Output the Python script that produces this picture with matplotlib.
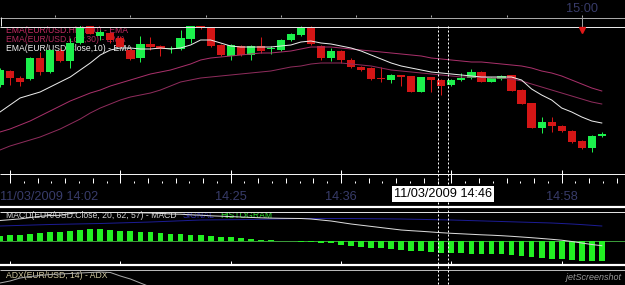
import numpy as np
import pandas as pd
import matplotlib
matplotlib.use('Agg')
import matplotlib.pyplot as plt
from matplotlib.transforms import blended_transform_factory

plt.rcParams['font.family'] = ['Liberation Sans', 'DejaVu Sans']

W, H = 625, 285
LW = 0.72          # one pixel
FS = 9.2           # time labels
FS_SMALL = 6.2     # indicator titles

# EUR/USD, 1 minute bars, 11/03/2009 from 14:02
times = pd.date_range('2009-03-11 14:02', periods=61, freq='min')

opens = [1.2741, 1.2755, 1.2748, 1.2747, 1.2768, 1.2754, 1.2775, 1.2765, 1.2783, 1.2800,
         1.2790, 1.2793, 1.2788, 1.2776, 1.2768, 1.2782, 1.2780, 1.2777, 1.2777, 1.2787,
         1.2800, 1.2798, 1.2781, 1.2770, 1.2780, 1.2771, 1.2780, 1.2777, 1.2776, 1.2786,
         1.2791, 1.2799, 1.2780, 1.2768, 1.2775, 1.2766, 1.2759, 1.2758, 1.2748, 1.2746,
         1.2751, 1.2750, 1.2734, 1.2749, 1.2746, 1.2741, 1.2746, 1.2748, 1.2754, 1.2744,
         1.2747, 1.2751, 1.2736, 1.2723, 1.2698, 1.2704, 1.2700, 1.2695, 1.2685, 1.2678,
         1.2690]
highs = [1.2758, 1.2756, 1.2750, 1.2769, 1.2774, 1.2777, 1.2778, 1.2788, 1.2801, 1.2801,
         1.2796, 1.2794, 1.2790, 1.2778, 1.2790, 1.2789, 1.2781, 1.2780, 1.2796, 1.2801,
         1.2801, 1.2799, 1.2782, 1.2782, 1.2781, 1.2781, 1.2789, 1.2780, 1.2787, 1.2793,
         1.2800, 1.2800, 1.2781, 1.2778, 1.2776, 1.2768, 1.2760, 1.2759, 1.2759, 1.2752,
         1.2751, 1.2750, 1.2749, 1.2749, 1.2747, 1.2747, 1.2753, 1.2757, 1.2755, 1.2749,
         1.2751, 1.2751, 1.2737, 1.2723, 1.2709, 1.2709, 1.2701, 1.2696, 1.2686, 1.2691,
         1.2694]
lows = [1.2739, 1.2741, 1.2740, 1.2746, 1.2751, 1.2753, 1.2764, 1.2758, 1.2782, 1.2792,
        1.2786, 1.2783, 1.2778, 1.2766, 1.2764, 1.2776, 1.2770, 1.2773, 1.2776, 1.2783,
        1.2797, 1.2779, 1.2770, 1.2766, 1.2770, 1.2766, 1.2773, 1.2772, 1.2775, 1.2785,
        1.2790, 1.2781, 1.2766, 1.2765, 1.2763, 1.2758, 1.2755, 1.2746, 1.2744, 1.2743,
        1.2740, 1.2734, 1.2734, 1.2734, 1.2731, 1.2740, 1.2745, 1.2747, 1.2744, 1.2744,
        1.2746, 1.2735, 1.2722, 1.2698, 1.2693, 1.2694, 1.2694, 1.2683, 1.2677, 1.2674,
        1.2689]
closes = [1.2756, 1.2748, 1.2744, 1.2768, 1.2754, 1.2776, 1.2765, 1.2783, 1.2799, 1.2792,
          1.2794, 1.2786, 1.2779, 1.2767, 1.2782, 1.2779, 1.2777, 1.2778, 1.2788, 1.2800,
          1.2798, 1.2780, 1.2771, 1.2781, 1.2771, 1.2780, 1.2775, 1.2778, 1.2786, 1.2792,
          1.2798, 1.2782, 1.2768, 1.2775, 1.2766, 1.2759, 1.2756, 1.2747, 1.2747, 1.2751,
          1.2749, 1.2734, 1.2749, 1.2746, 1.2740, 1.2746, 1.2748, 1.2754, 1.2744, 1.2748,
          1.2750, 1.2735, 1.2722, 1.2698, 1.2704, 1.2700, 1.2695, 1.2684, 1.2678, 1.2690,
          1.2692]

ema_close10 = [1.2714, 1.2721, 1.2728, 1.2731, 1.2734, 1.2739, 1.2744, 1.2749, 1.2756, 1.2763,
               1.2771, 1.2776, 1.2778, 1.2778, 1.2777, 1.2777, 1.2778, 1.2777, 1.2778, 1.2781,
               1.2786, 1.2786, 1.2783, 1.2780, 1.2779, 1.2779, 1.2779, 1.2779, 1.2780, 1.2781,
               1.2784, 1.2785, 1.2783, 1.2782, 1.2780, 1.2778, 1.2775, 1.2771, 1.2767, 1.2763,
               1.2760, 1.2758, 1.2756, 1.2754, 1.2753, 1.2752, 1.2751, 1.2750, 1.2749, 1.2749,
               1.2749, 1.2749, 1.2746, 1.2737, 1.2731, 1.2726, 1.2718, 1.2714, 1.2709, 1.2705,
               1.2703]
ema_high30 = [1.2694, 1.2697, 1.2701, 1.2705, 1.2710, 1.2715, 1.2720, 1.2725, 1.2729, 1.2733,
              1.2736, 1.2740, 1.2743, 1.2746, 1.2749, 1.2752, 1.2754, 1.2756, 1.2759, 1.2762,
              1.2766, 1.2768, 1.2769, 1.2770, 1.2771, 1.2772, 1.2773, 1.2773, 1.2774, 1.2775,
              1.2777, 1.2779, 1.2779, 1.2779, 1.2778, 1.2777, 1.2776, 1.2775, 1.2774, 1.2773,
              1.2772, 1.2771, 1.2770, 1.2768, 1.2767, 1.2766, 1.2765, 1.2764, 1.2764, 1.2763,
              1.2762, 1.2761, 1.2760, 1.2758, 1.2755, 1.2753, 1.2750, 1.2746, 1.2742, 1.2738,
              1.2735]
ema_low30 = [1.2676, 1.2680, 1.2683, 1.2686, 1.2689, 1.2693, 1.2697, 1.2702, 1.2707, 1.2713,
             1.2718, 1.2722, 1.2726, 1.2729, 1.2731, 1.2733, 1.2736, 1.2740, 1.2744, 1.2746,
             1.2748, 1.2749, 1.2750, 1.2751, 1.2752, 1.2753, 1.2754, 1.2755, 1.2757, 1.2759,
             1.2760, 1.2762, 1.2763, 1.2763, 1.2763, 1.2762, 1.2761, 1.2760, 1.2758, 1.2756,
             1.2755, 1.2754, 1.2753, 1.2752, 1.2751, 1.2750, 1.2749, 1.2749, 1.2749, 1.2748,
             1.2748, 1.2747, 1.2745, 1.2742, 1.2739, 1.2736, 1.2733, 1.2730, 1.2727, 1.2724,
             1.2722]

# MACD(20, 62, 57) in pips
macd_line = [2.05, 2.13, 2.21, 2.34, 2.47, 2.55, 2.57, 2.74, 2.86, 2.93,
             2.95, 2.93, 2.86, 2.84, 2.82, 2.80, 2.76, 2.70, 2.68, 2.62,
             2.58, 2.52, 2.48, 2.44, 2.40, 2.36, 2.32, 2.29, 2.27, 2.26,
             2.25, 2.20, 2.10, 2.00, 1.85, 1.70, 1.58, 1.46, 1.34, 1.22,
             1.10, 1.03, 0.97, 0.90, 0.83, 0.77, 0.72, 0.67, 0.62, 0.58,
             0.53, 0.47, 0.40, 0.33, 0.25, 0.17, 0.08, -0.05, -0.20, -0.35,
             -0.47]
macd_signal = [1.50, 1.53, 1.56, 1.59, 1.62, 1.65, 1.67, 1.69, 1.71, 1.73,
               1.75, 1.78, 1.81, 1.84, 1.87, 1.90, 1.94, 1.98, 2.02, 2.06,
               2.10, 2.11, 2.12, 2.13, 2.14, 2.15, 2.17, 2.19, 2.21, 2.23,
               2.25, 2.25, 2.25, 2.25, 2.25, 2.25, 2.24, 2.23, 2.22, 2.21,
               2.20, 2.18, 2.16, 2.14, 2.12, 2.10, 2.07, 2.04, 2.01, 1.98,
               1.95, 1.92, 1.89, 1.86, 1.83, 1.80, 1.75, 1.70, 1.64, 1.57,
               1.50]
macd_hist = [0.55, 0.60, 0.65, 0.75, 0.85, 0.90, 0.90, 1.05, 1.15, 1.20,
             1.20, 1.15, 1.05, 1.00, 0.95, 0.90, 0.85, 0.75, 0.75, 0.65,
             0.60, 0.50, 0.43, 0.37, 0.27, 0.20, 0.13, 0.07, 0.03, -0.02,
             -0.05, -0.10, -0.15, -0.22, -0.40, -0.45, -0.57, -0.67, -0.73, -0.80,
             -0.90, -0.97, -1.03, -1.13, -1.15, -1.15, -1.20, -1.25, -1.30, -1.30,
             -1.33, -1.40, -1.47, -1.57, -1.67, -1.80, -1.83, -1.90, -2.00, -2.00,
             -2.00]

adx = [39, 41, 44, 45.5, 46.5, 47.5, 48, 48.5, 49, 49.5,
       50, 49.5, 46, 43, 39, 35, 32, 30, 29, 28.5,
       28, 27.5, 27, 27, 26.5, 26, 25.5, 25, 25, 24.5,
       24, 24, 23.5, 23, 23, 23.5, 24, 25, 26, 27,
       28, 29, 30, 31, 31.5, 32, 32.5, 33, 33.5, 34,
       34.5, 35, 35.5, 36, 36, 36, 36, 35.5, 35.5, 35.5,
       35.5]

major_idx = [1, 12, 23, 34, 45, 56]
label_idx = [23, 34, 56]
cross_idx = 44
marker_idx = 58      # 15:00

GREEN = '#1cf04c'
RED = '#d41616'
LABEL = '#383c6a'

fig = plt.figure(figsize=(W / 100, H / 100), dpi=100, facecolor='black')


def panel(top, bottom):
    a = fig.add_axes([0, 1 - bottom / H, 1, (bottom - top) / H], facecolor='black')
    a.set_xlim(0, W / 10.03)
    a.set_xticks([])
    a.set_yticks([])
    for s in a.spines.values():
        s.set_visible(False)
    return a


ax = panel(26, 173)
axm = panel(212, 264)
axa = panel(271, 285)

x = np.arange(len(opens))
o, h, l, c = map(np.array, (opens, highs, lows, closes))
col = np.where(c >= o, GREEN, RED)

# candles
ax.vlines(x, l, h, colors=col, lw=LW, zorder=3)
ax.bar(x, np.maximum(np.abs(c - o), 0.00009), bottom=np.minimum(o, c), width=0.82,
       color=col, linewidth=0, zorder=4)
ax.plot(x, ema_high30, color='#a8306a', lw=LW, zorder=5)
ax.plot(x, ema_low30, color='#8e2c5c', lw=LW, zorder=5)
ax.plot(x, ema_close10, color='#ececec', lw=LW, zorder=5)
ax.set_ylim(1.2653, 1.2800)

tf = fig.transFigure
ax.text(6 / W, 1 - 33 / H, 'EMA(EUR/USD.High,30) - EMA', color='#c42a63', fontsize=FS_SMALL,
        transform=tf, va='baseline', zorder=1)
ax.text(6 / W, 1 - 42 / H, 'EMA(EUR/USD.Low,30) - EMA', color='#b02a5c', fontsize=FS_SMALL,
        transform=tf, va='baseline', zorder=1)
ax.text(6 / W, 1 - 51 / H, 'EMA(EUR/USD.Close,10) - EMA', color='#f0f0f0', fontsize=FS_SMALL,
        transform=tf, va='baseline', zorder=1)

# MACD panel
axm.axhline(0, color='#3a9a3a', lw=LW, zorder=1)
axm.bar(x, macd_hist, width=0.58, color='#22f022', linewidth=0, zorder=2)
axm.plot(x, macd_signal, color='#1c1c92', lw=LW, zorder=3)
axm.plot(x, macd_line, color='#dcdcdc', lw=LW, zorder=3)
axm.set_ylim(-2.3, 2.9)
axm.text(6 / W, 1 - 218 / H, 'MACD(EUR/USD.Close, 20, 62, 57) - MACD', color='#d4d4d4',
         fontsize=FS_SMALL, transform=tf, va='baseline', zorder=1.5)
axm.text(183 / W, 1 - 218 / H, 'SIGNAL', color='#2a2aa8', fontsize=FS_SMALL,
         transform=tf, va='baseline', zorder=1.5)
axm.text(220 / W, 1 - 218 / H, 'HISTOGRAM', color='#2ee02e', fontsize=FS_SMALL,
         transform=tf, va='baseline', zorder=1.5)

# ADX panel
axa.plot(x, adx, color='#a8a8a8', lw=LW, zorder=3)
axa.set_ylim(37, 51)
axa.text(6 / W, 1 - 278 / H, 'ADX(EUR/USD, 14) - ADX', color='#d0c8a0', fontsize=FS_SMALL,
         transform=tf, va='baseline', zorder=1)

# frame lines, ticks and labels in pixel space
deco = fig.add_axes([0, 0, 1, 1], zorder=10)
deco.set_xlim(0, W)
deco.set_ylim(H, 0)
deco.axis('off')
deco.patch.set_visible(False)
bx = blended_transform_factory(ax.transData, deco.transData)

deco.hlines(17.5, 0, W, color='#a8a8a8', lw=LW)
deco.vlines(0.5, 17, 26, color='#e8e8e8', lw=LW)
deco.hlines(26.5, 0, W, color='#e8e8e8', lw=LW)
deco.hlines(173.5, 0, W, color='#f0f0f0', lw=LW)
deco.hlines(207, 0, W, color='#ffffff', lw=2.2 * LW)
deco.hlines(212, 0, W, color='#e0e0e0', lw=LW)
deco.hlines(264.5, 0, W, color='#ffffff', lw=2.2 * LW)
deco.hlines(270, 0, W, color='#b8b8b8', lw=LW)

# overview ticks on the top strip
deco.vlines(np.arange(marker_idx, 0, -7.5), 14.5, 17, transform=bx, color='#a8a8a8', lw=LW)

# time axis ticks
deco.vlines(major_idx, 170, 183, transform=bx, color='white', lw=LW)
deco.vlines(major_idx, 261, 264, transform=bx, color='white', lw=LW)
for m in major_idx:
    for k in range(1, 8):
        pos = m + k * 11 / 8
        if pos > W / 10.03:
            break
        deco.vlines(pos, 178 if k % 2 == 0 else 180.5, 183, transform=bx, color='white', lw=LW)

deco.text(0, 200, times[0].strftime('%d/%m/%Y %H:%M'), transform=bx, ha='left',
          va='baseline', color=LABEL, fontsize=FS)
for i in label_idx:
    deco.text(i, 200, times[i].strftime('%H:%M'), transform=bx, ha='center',
              va='baseline', color=LABEL, fontsize=FS)

# crosshair
deco.vlines([cross_idx - 0.35, cross_idx + 0.65], 26, H, transform=bx, color='white',
            lw=LW, linestyles=(0, (2, 2)))
deco.text(cross_idx + 0.15, 197, times[cross_idx].strftime('%d/%m/%Y %H:%M'), transform=bx,
          ha='center', va='baseline', color='black', fontsize=FS, zorder=5,
          bbox=dict(boxstyle='square,pad=0.15', fc='white', ec='none'))

# 15:00 marker
deco.text(marker_idx, 12, '15:00', transform=bx, ha='center', va='baseline',
          color=LABEL, fontsize=FS)
deco.vlines(marker_idx, 17, 27, transform=bx, color='#a0a0a0', lw=LW)
deco.plot([marker_idx], [30], marker='v', ms=5, color='#e01818', transform=bx, lw=0)

deco.text(566, 280, 'jetScreenshot', color='#9a9a9a', fontsize=6.5, style='italic',
          va='baseline')

fig.savefig('out.png', dpi=100, facecolor='black')
